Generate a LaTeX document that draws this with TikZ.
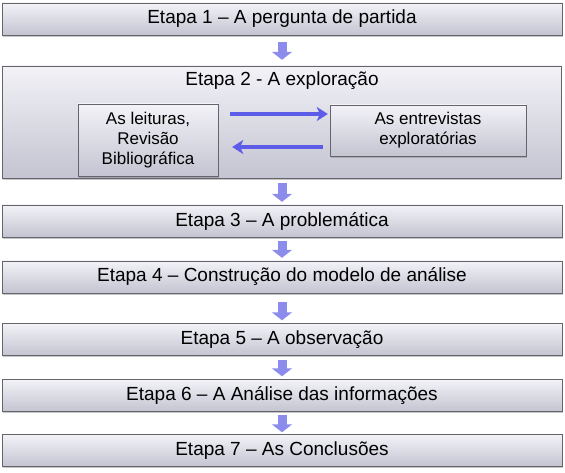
\documentclass[tikz,border=0pt]{standalone}
\usepackage{fontspec}
\setmainfont{Liberation Sans}
\usetikzlibrary{arrows.meta,shadows}
\definecolor{fundoA}{RGB}{242,242,247}
\definecolor{fundoB}{RGB}{196,196,210}
\definecolor{borda}{RGB}{100,100,108}
\definecolor{setaclara}{RGB}{140,140,236}
\definecolor{setaescura}{RGB}{92,92,232}
\begin{document}
\begin{tikzpicture}[x=1pt,y=-1pt,
    caixa/.style={draw=borda, top color=fundoA, bottom color=fundoB, inner sep=0pt,
        drop shadow={shadow xshift=0.8pt, shadow yshift=-1.8pt, opacity=.45}},
    etapa/.style={caixa, minimum width=560pt, minimum height=32pt, font=\fontsize{19}{22}\selectfont},
    leitura/.style={caixa, align=center, font=\fontsize{17}{20}\selectfont},
    seta/.style={draw=setaclara, line width=9pt, -{Triangle[width=20pt,length=8pt]}},
    troca/.style={draw=setaescura, line width=3.5pt, -{Stealth[width=14pt,length=11pt,inset=3pt]}}]
        \useasboundingbox (0,0) rectangle (565,473);
        \node[etapa] (1) at (282,19) {Etapa 1 -- A pergunta de partida};
        \node[caixa, minimum width=559pt, minimum height=112pt] (2) at (282,122) {};
        \node[font=\fontsize{19}{22}\selectfont] (2t) at (282,81) {Etapa 2 - A exploração};
        \node[leitura, minimum width=140pt, minimum height=72pt] (L) at (148,140) {As leituras,\\Revisão\\Bibliográfica};
        \node[leitura, minimum width=196pt, minimum height=51pt] (R) at (428,130.5) {As entrevistas\\exploratórias};
        \node[etapa] (3) at (282,221) {Etapa 3 -- A problemática};
        \node[etapa] (4) at (282,277) {Etapa 4 -- Construção do modelo de análise};
        \node[etapa] (5) at (282,339.5) {Etapa 5 -- A observação};
        \node[etapa] (6) at (282,395.5) {Etapa 6 -- A Análise das informações};
        \node[etapa] (7) at (282,450.5) {Etapa 7 -- As Conclusões};

        \path[seta, shorten <=7pt, shorten >=6pt] (1) -- (2);
        \path[seta, shorten <=5pt, shorten >=3pt] (2) -- (3);
        \path[seta, shorten <=4pt, shorten >=3pt] (3) -- (4);
        \path[seta, shorten <=9pt, shorten >=3pt] (4) -- (5);
        \path[seta, shorten <=4pt, shorten >=3pt] (5) -- (6);
        \path[seta, shorten <=3pt, shorten >=2pt] (6) -- (7);

        \path[troca] ([shift={(12,-26)}]L.east) -- ([shift={(-2,-16.5)}]R.west);
        \path[troca] ([shift={(-7,16.5)}]R.west) -- ([shift={(14,7)}]L.east);
    \end{tikzpicture}
\end{document}
